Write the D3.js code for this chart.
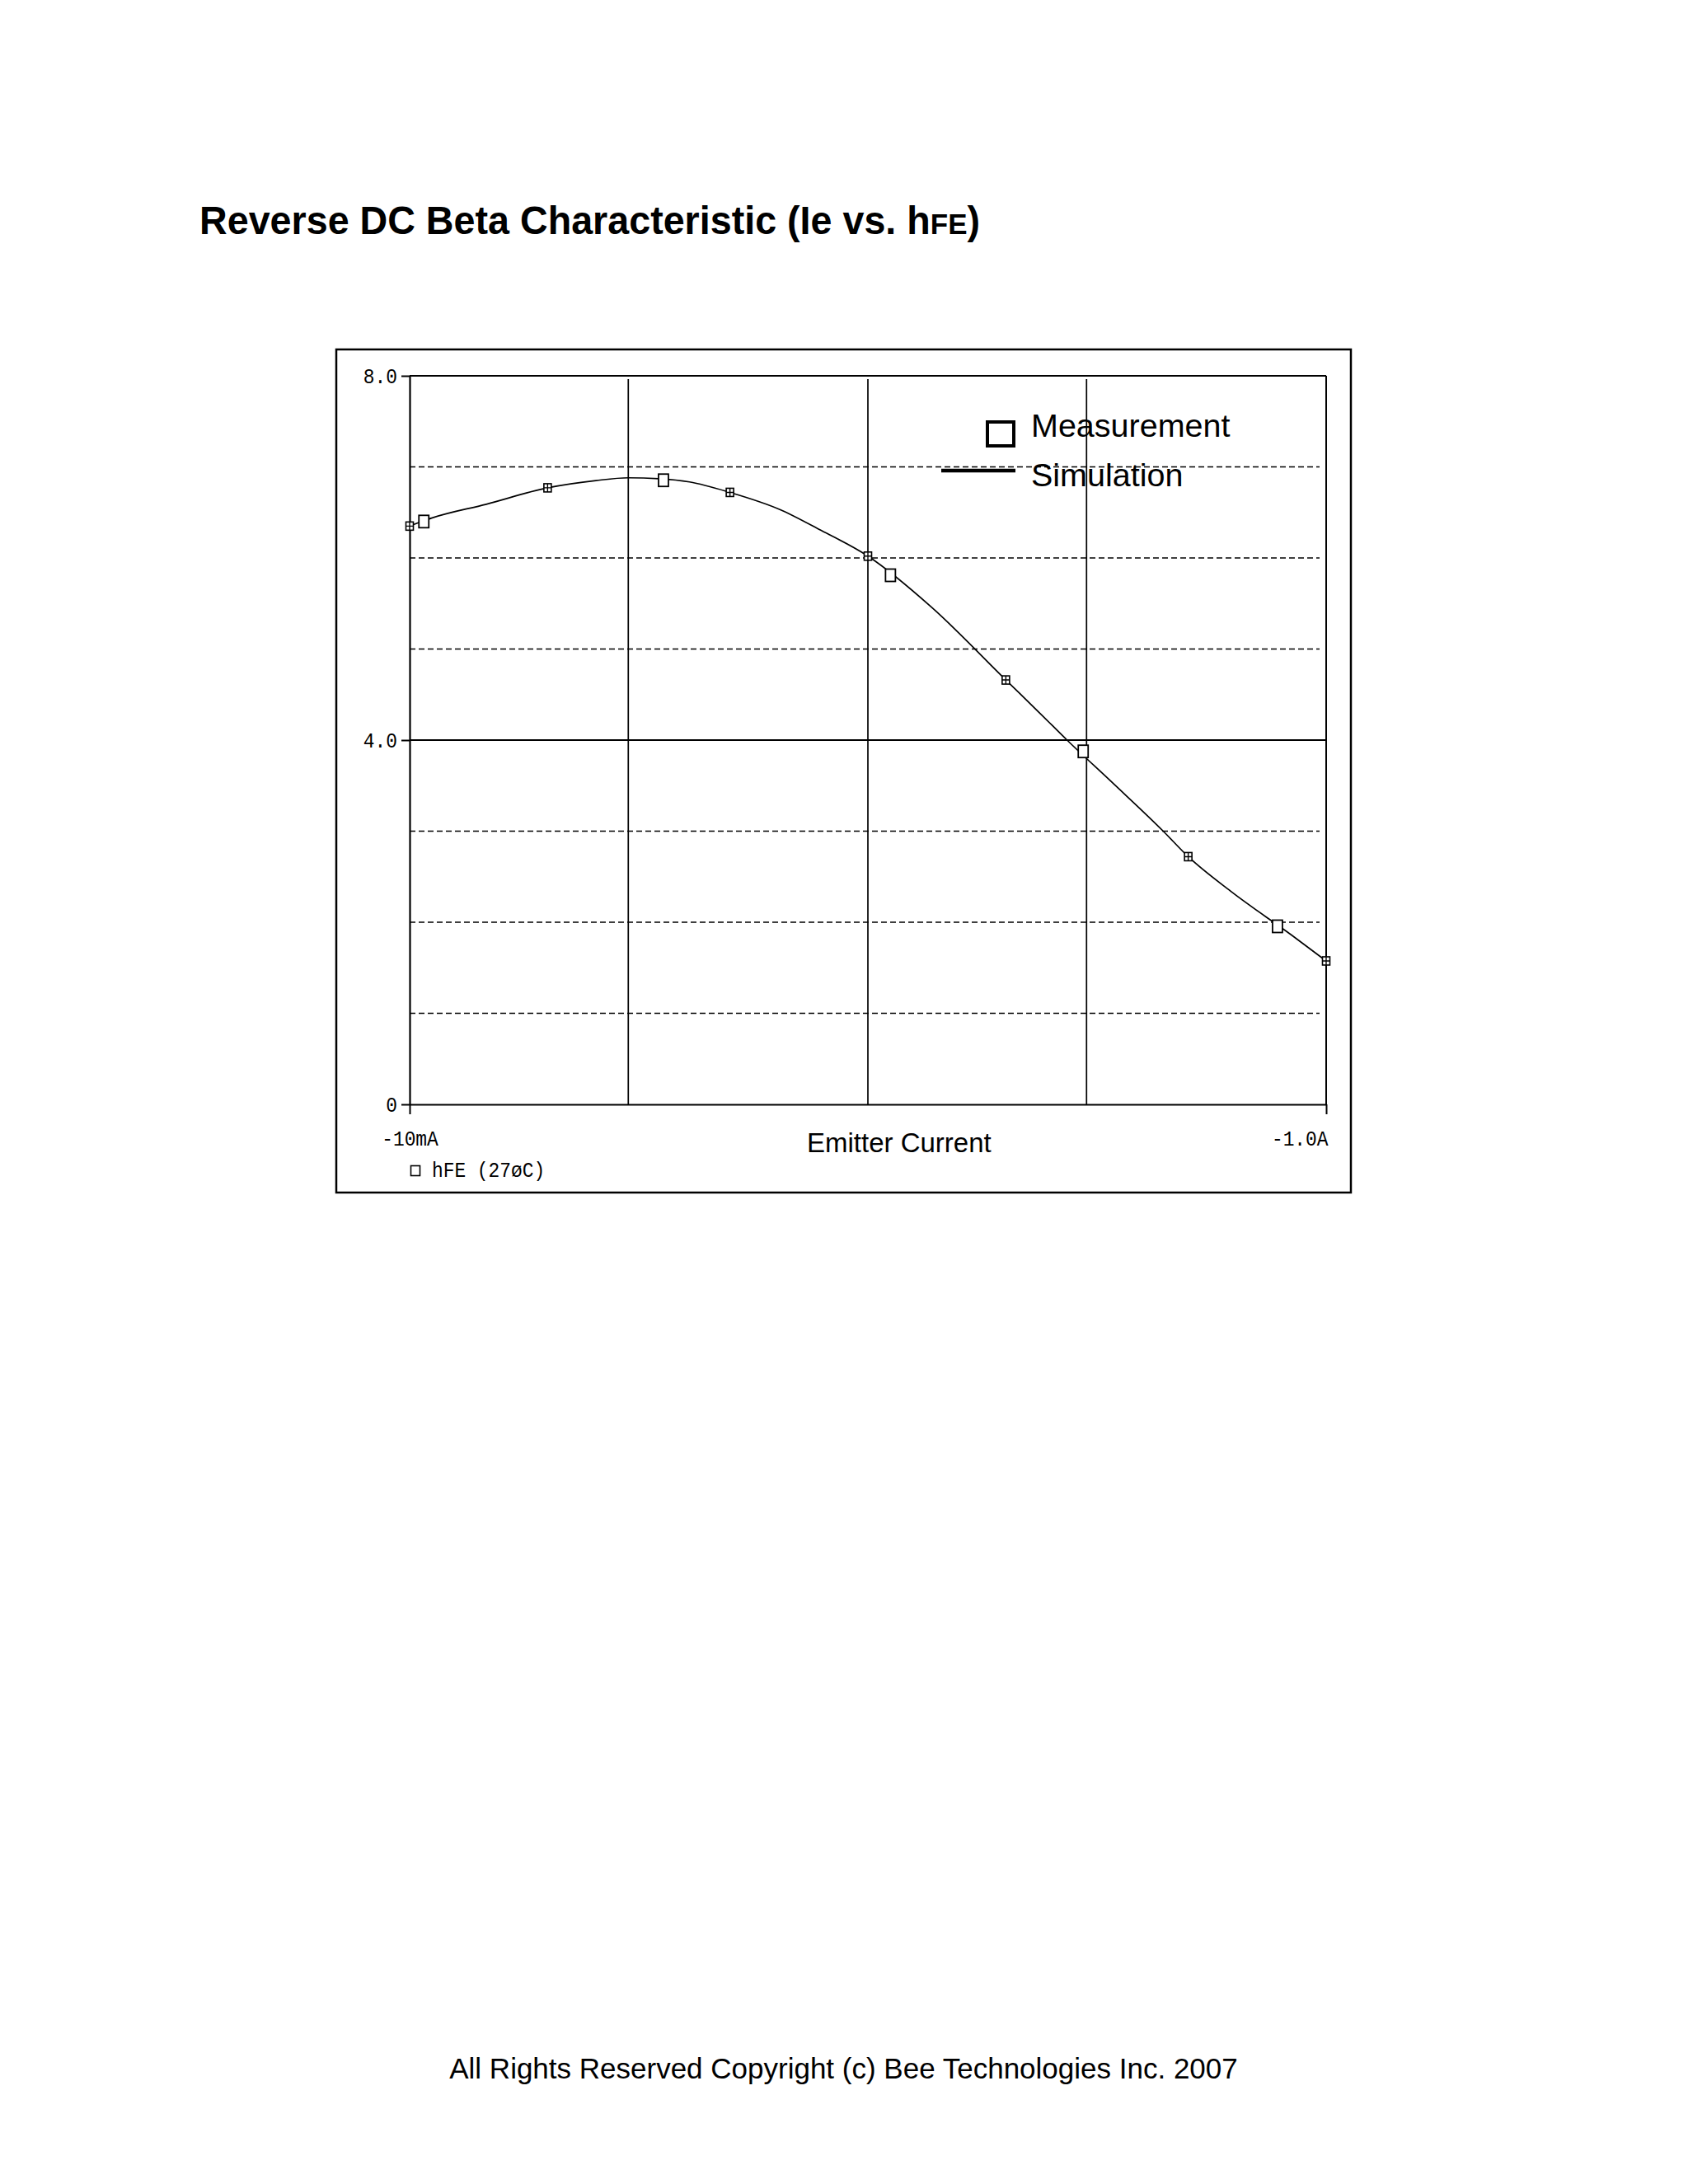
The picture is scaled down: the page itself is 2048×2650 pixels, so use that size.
<!DOCTYPE html>
<html>
<head>
<meta charset="utf-8">
<script src="https://cdn.jsdelivr.net/npm/d3@7"></script>
<style>
	body { margin: 0; background: #fff; }
</style>
</head>
<body>
<svg id="chart" width="2048" height="2650"></svg>
<script>
// emitter current magnitudes in mA (axis runs -10mA .. -1.0A)
var simCurrent = [10, 11.2, 14.7, 20, 25.5, 30, 35, 40.8, 50, 64.4, 79.2, 100, 137.6, 200, 239, 272, 342, 441, 500, 619, 840, 1000];
var simHfe     = [6.35, 6.44, 6.59, 6.77, 6.85, 6.88, 6.87, 6.835, 6.72, 6.53, 6.30, 6.02, 5.46, 4.66, 4.28, 4.0, 3.53, 3.0, 2.72, 2.34, 1.86, 1.575];

// PSpice trace markers sit on these simulation points
var markerCurrent = [10, 20, 50, 100, 200, 500, 1000];

var measCurrent = [10.74, 35.8, 112, 295, 783];
var measHfe     = [6.40, 6.853, 5.81, 3.876, 1.955];

var xGrid = [30, 100, 300];
var yGridDashed = [1, 2, 3, 5, 6, 7];
var yGridSolid = [4];
var yTicks = [0, 4, 8];
var yTickLabels = ["0", "4.0", "8.0"];
var xTicks = [10, 1000];
var xTickLabels = ["-10mA", "-1.0A"];

var mono = "'Liberation Mono', 'DejaVu Sans Mono', monospace";
var sans = "'Liberation Sans', Arial, sans-serif";
var monoSize = 26, monoSquash = 0.88; // pspice font is tall and narrow

var svg = d3.select("#chart");

svg.append("rect")
	.attr("width", 2048)
	.attr("height", 2650)
	.attr("fill", "#fff");

// title, with small "FE"
var title = svg.append("text")
	.attr("transform", "translate(242,284) scale(0.972,1)")
	.attr("font-family", sans)
	.attr("font-weight", "bold")
	.attr("font-size", 48);
title.append("tspan").text("Reverse DC Beta Characteristic (Ie vs. h");
title.append("tspan").attr("font-size", 36).text("FE");
title.append("tspan").text(")");

// outer frame
svg.append("rect")
	.attr("x", 408)
	.attr("y", 424)
	.attr("width", 1231)
	.attr("height", 1023)
	.attr("fill", "none")
	.attr("stroke", "#000")
	.attr("stroke-width", 2.5);

var x = d3.scaleLog().domain([10, 1000]).range([497, 1609]);
var y = d3.scaleLinear().domain([0, 8]).range([1340, 456]);

var plot = svg.append("g");

// grid
plot.selectAll(".hdash")
	.data(yGridDashed)
	.enter()
	.append("line")
	.attr("class", "hdash")
	.attr("x1", x(10))
	.attr("x2", x(1000) - 8)
	.attr("y1", function (d) { return y(d); })
	.attr("y2", function (d) { return y(d); })
	.attr("stroke", "#000")
	.attr("stroke-width", 1.7)
	.attr("stroke-dasharray", "7,4");

plot.selectAll(".hsolid")
	.data(yGridSolid)
	.enter()
	.append("line")
	.attr("class", "hsolid")
	.attr("x1", x(10))
	.attr("x2", x(1000))
	.attr("y1", function (d) { return y(d); })
	.attr("y2", function (d) { return y(d); })
	.attr("stroke", "#000")
	.attr("stroke-width", 1.8);

plot.selectAll(".vgrid")
	.data(xGrid)
	.enter()
	.append("line")
	.attr("class", "vgrid")
	.attr("x1", function (d) { return x(d); })
	.attr("x2", function (d) { return x(d); })
	.attr("y1", y(8) + 4)
	.attr("y2", y(0))
	.attr("stroke", "#000")
	.attr("stroke-width", 1.7);

// top and right border of the plot
plot.append("line")
	.attr("x1", x(10)).attr("x2", x(1000))
	.attr("y1", y(8)).attr("y2", y(8))
	.attr("stroke", "#000").attr("stroke-width", 2.2);
plot.append("line")
	.attr("x1", x(1000)).attr("x2", x(1000))
	.attr("y1", y(8)).attr("y2", y(0))
	.attr("stroke", "#000").attr("stroke-width", 2);

// axes
var yAxis = d3.axisLeft(y)
	.tickValues(yTicks)
	.tickFormat(function (d, i) { return yTickLabels[i]; })
	.tickSize(10)
	.tickSizeOuter(0)
	.tickPadding(5);

var yAxisG = plot.append("g")
	.attr("transform", "translate(" + x(10) + ",0)")
	.call(yAxis);

var xAxis = d3.axisBottom(x)
	.tickValues(xTicks)
	.tickFormat(function (d, i) { return xTickLabels[i]; })
	.tickSize(12)
	.tickSizeOuter(0)
	.tickPadding(20);

var xAxisG = plot.append("g")
	.attr("transform", "translate(0," + y(0) + ")")
	.call(xAxis);

[yAxisG, xAxisG].forEach(function (g) {
	g.attr("font-family", mono).attr("font-size", monoSize);
	g.select(".domain").attr("stroke-width", 2.2);
	g.selectAll(".tick line").attr("stroke-width", 2);
	g.selectAll("text").attr("fill", "#000");
});

// last x label hangs to the left of its tick
xAxisG.selectAll(".tick text")
	.filter(function (d) { return d === 1000; })
	.attr("text-anchor", "end")
	.attr("x", 2);

// squash tick labels horizontally, keeping their anchor point
plot.selectAll(".tick text").each(function () {
	var t = d3.select(this);
	t.attr("x", (+t.attr("x") || 0) / monoSquash)
		.attr("transform", "scale(" + monoSquash + ",1)");
});

// simulation trace
var simData = simCurrent.map(function (c, i) { return [c, simHfe[i]]; });

var line = d3.line()
	.x(function (d) { return x(d[0]); })
	.y(function (d) { return y(d[1]); })
	.curve(d3.curveMonotoneX);

plot.append("path")
	.datum(simData)
	.attr("d", line)
	.attr("fill", "none")
	.attr("stroke", "#000")
	.attr("stroke-width", 1.7);

// small crossed trace markers
var markerData = simData.filter(function (d) { return markerCurrent.indexOf(d[0]) >= 0; });

var marks = plot.selectAll(".mark")
	.data(markerData)
	.enter()
	.append("g")
	.attr("class", "mark")
	.attr("transform", function (d) { return "translate(" + x(d[0]) + "," + y(d[1]) + ")"; });

marks.append("rect")
	.attr("x", -4.5).attr("y", -5)
	.attr("width", 9).attr("height", 10)
	.attr("fill", "#fff")
	.attr("stroke", "#000")
	.attr("stroke-width", 1.6);
marks.append("path")
	.attr("d", "M0,-5V5M-4.5,0H4.5")
	.attr("stroke", "#000")
	.attr("stroke-width", 1.4);

// measurement squares
plot.selectAll(".meas")
	.data(measCurrent)
	.enter()
	.append("rect")
	.attr("class", "meas")
	.attr("x", function (d) { return x(d) - 6; })
	.attr("y", function (d, i) { return y(measHfe[i]) - 7.5; })
	.attr("width", 12)
	.attr("height", 15)
	.attr("fill", "#fff")
	.attr("stroke", "#000")
	.attr("stroke-width", 1.8);

// legend inside the plot
var legend = svg.append("g");

legend.append("rect")
	.attr("x", 1198).attr("y", 512)
	.attr("width", 32).attr("height", 29)
	.attr("fill", "none")
	.attr("stroke", "#000")
	.attr("stroke-width", 4);
legend.append("line")
	.attr("x1", 1142).attr("x2", 1232)
	.attr("y1", 571).attr("y2", 571)
	.attr("stroke", "#000")
	.attr("stroke-width", 4.5);
legend.append("text")
	.attr("x", 1251).attr("y", 530)
	.attr("font-family", sans).attr("font-size", 39.5)
	.text("Measurement");
legend.append("text")
	.attr("x", 1251).attr("y", 590)
	.attr("font-family", sans).attr("font-size", 39.5)
	.text("Simulation");

// axis title and trace name
svg.append("text")
	.attr("x", 979).attr("y", 1398)
	.attr("font-family", sans).attr("font-size", 33)
	.text("Emitter Current");

svg.append("rect")
	.attr("x", 498.5).attr("y", 1414.5)
	.attr("width", 11).attr("height", 12)
	.attr("fill", "none")
	.attr("stroke", "#000")
	.attr("stroke-width", 1.6);
svg.append("text")
	.attr("transform", "translate(524,1428) scale(" + monoSquash + ",1)")
	.attr("font-family", mono).attr("font-size", monoSize)
	.text("hFE (27\u00f8C)");

// footer
svg.append("text")
	.attr("x", 1023.5).attr("y", 2522)
	.attr("text-anchor", "middle")
	.attr("font-family", sans).attr("font-size", 35)
	.text("All Rights Reserved Copyright (c) Bee Technologies Inc. 2007");
</script>
</body>
</html>
